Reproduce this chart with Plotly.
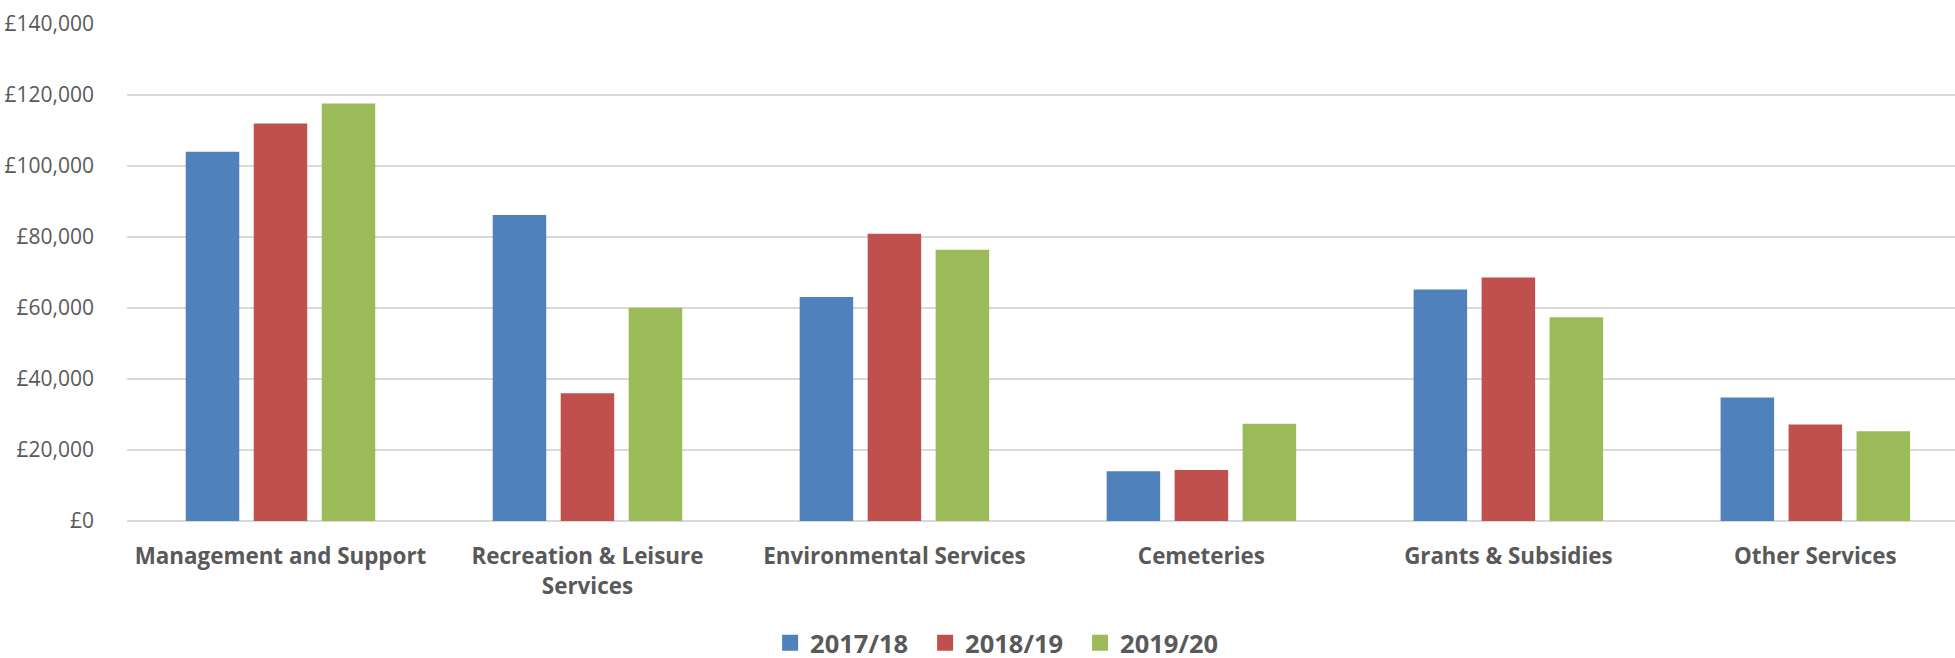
import plotly.graph_objects as go

categories = ["Management and Support", "Recreation & Leisure<br>Services",
              "Environmental Services", "Cemeteries", "Grants & Subsidies", "Other Services"]
series_names = ["2017/18", "2018/19", "2019/20"]
v_2017 = [104000, 86200, 63100, 14000, 65200, 34800]
v_2018 = [112000, 36000, 80900, 14400, 68600, 27200]
v_2019 = [117600, 60100, 76400, 27400, 57400, 25300]
colors = ["#4F81BD", "#C0504D", "#9BBB59"]
y_ticks = [0, 20000, 40000, 60000, 80000, 100000, 120000, 140000]
y_ticktext = ["£0", "£20,000", "£40,000", "£60,000", "£80,000", "£100,000", "£120,000", "£140,000"]

fig = go.Figure()
for name, vals, col in zip(series_names, [v_2017, v_2018, v_2019], colors):
    fig.add_trace(go.Bar(x=list(range(len(categories))), y=vals, name=name,
                         marker=dict(color=col, line=dict(width=0)), showlegend=False))
for name, col in zip(series_names, colors):
    fig.add_trace(go.Scatter(x=[None], y=[None], mode="markers", name=name,
                             marker=dict(symbol="square", size=19, color=col)))

text_col = "#595959"
fig.update_layout(
    width=1955, height=658,
    margin=dict(l=127, r=0, t=24, b=137.3, autoexpand=False),
    paper_bgcolor="white", plot_bgcolor="white",
    barmode="group", bargap=0.3355, bargroupgap=0.213,
    font=dict(family="Open Sans", color=text_col, size=22),
    legend=dict(orientation="h", x=0.479, xanchor="center",
                y=-0.246, yanchor="middle",
                font=dict(size=25.5, family="Open Sans", weight="bold", color=text_col),
                itemwidth=30, entrywidth=110, entrywidthmode="pixels", tracegroupgap=0),
    showlegend=True,
)
fig.update_xaxes(
    tickmode="array", tickvals=list(range(len(categories))), ticktext=categories,
    range=[-0.5, 5.455], showgrid=False, zeroline=False, showline=False,
    tickfont=dict(size=22.4, family="Open Sans", weight="bold", color=text_col),
    ticks="", ticklabelstandoff=20, automargin=False,
)
fig.update_yaxes(
    range=[0, 140000], tickmode="array", tickvals=y_ticks, ticktext=y_ticktext,
    showgrid=True, gridcolor="#D9D9D9", gridwidth=2, zeroline=True, zerolinecolor="#D9D9D9",
    zerolinewidth=2, showline=False, ticks="", ticklabelstandoff=32, automargin=False,
    tickfont=dict(size=21, family="Open Sans", color=text_col),
)
fig.write_html("out.html", config={"displayModeBar": False},
               post_script="document.body.style.margin='0';")
